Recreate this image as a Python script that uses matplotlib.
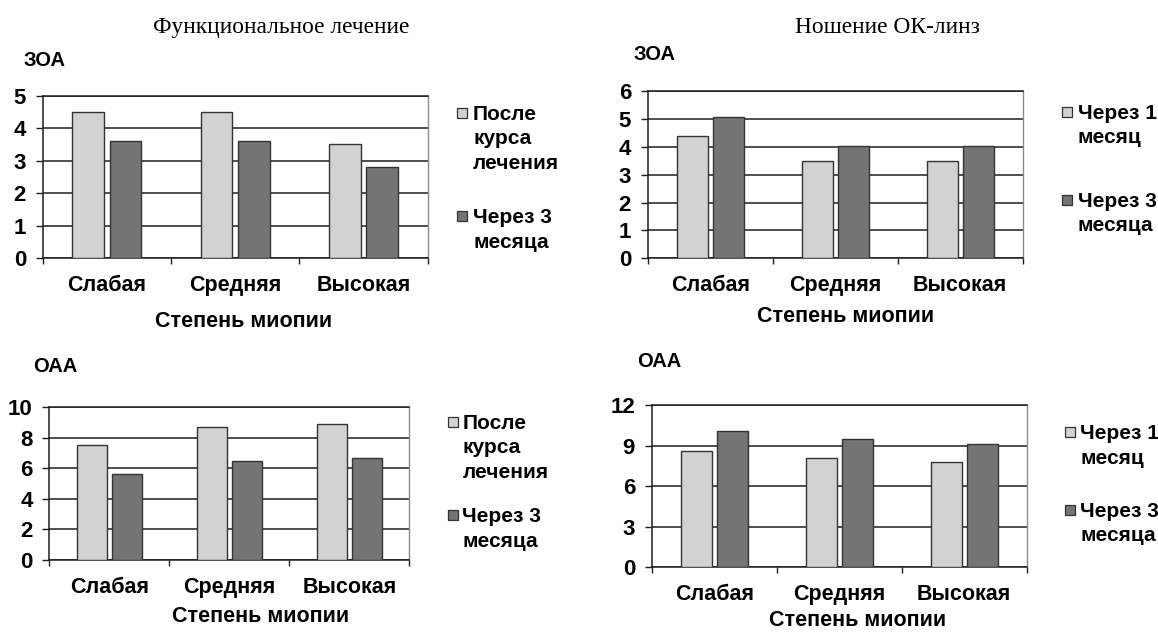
import matplotlib
matplotlib.use('Agg')
import matplotlib.pyplot as plt
from matplotlib.patches import Rectangle
import numpy as np

W, H = 1158, 633
plt.rcParams['font.family'] = ['Liberation Sans', 'DejaVu Sans']

# ---------------- data ----------------
categories = ['Слабая', 'Средняя', 'Высокая']
xlabel_text = 'Степень миопии'
left_heading = 'Функциональное лечение'
right_heading = 'Ношение ОК-линз'

zoa_func_after = [4.5, 4.5, 3.5]
zoa_func_3m = [3.6, 3.6, 2.8]
oaa_func_after = [7.5, 8.7, 8.9]
oaa_func_3m = [5.6, 6.5, 6.7]

zoa_ok_1m = [4.4, 3.5, 3.5]
zoa_ok_3m = [5.05, 4.03, 4.03]
oaa_ok_1m = [8.6, 8.1, 7.8]
oaa_ok_3m = [10.1, 9.5, 9.1]

func_labels = ['После\nкурса\nлечения', 'Через 3\nмесяца']
ok_labels = ['Через 1\nмесяц', 'Через 3\nмесяца']

yticks_zoa_func = [0, 1, 2, 3, 4, 5]
yticks_oaa_func = [0, 2, 4, 6, 8, 10]
yticks_zoa_ok = [0, 1, 2, 3, 4, 5, 6]
yticks_oaa_ok = [0, 3, 6, 9, 12]

# ---------------- style ----------------
LIGHT = '#d2d2d2'
DARK = '#747474'
EDGE = '#333333'
GRID = '#1e1e1e'
TICK_FS = 16
CAT_FS = 15.5
LEG_FS = 15
XLAB_FS = 15.5
TTL_FS = 14.5

fig = plt.figure(figsize=(W / 100, H / 100), dpi=100)


def fx(x):
    return x / W


def fy(y):
    return 1 - y / H


def panel(ax_px, s1, s2, yticks, title, title_px, labels, sq_x, txt_x, leg_y, xlab_c):
    x0, y0, x1, y1 = ax_px
    ax = fig.add_axes([fx(x0), fy(y1), (x1 - x0) / W, (y1 - y0) / H])
    x = np.arange(len(categories))
    ax.bar(x - 0.145, s1, width=0.247, color=LIGHT, edgecolor=EDGE, lw=1.0, zorder=3)
    ax.bar(x + 0.145, s2, width=0.247, color=DARK, edgecolor=EDGE, lw=1.0, zorder=3)
    ax.set_xlim(-0.5, len(categories) - 0.5)
    ax.set_ylim(yticks[0], yticks[-1])
    ax.set_yticks(yticks)
    ax.set_yticklabels([str(t) for t in yticks], fontsize=TICK_FS, fontweight='bold')
    ax.yaxis.grid(True, color=GRID, lw=1.1, zorder=0)
    ax.set_axisbelow(True)
    ax.set_xticks(np.arange(len(categories) + 1) - 0.5)
    ax.set_xticklabels([])
    ax.set_xticks(x, minor=True)
    ax.set_xticklabels(categories, minor=True, fontsize=CAT_FS, fontweight='bold')
    ax.tick_params(axis='x', which='minor', length=0, pad=12)
    ax.tick_params(axis='x', which='major', length=4.5, width=1.0, color=GRID, direction='out')
    ax.tick_params(axis='y', length=5.0, width=1.0, color=GRID, direction='out', pad=7)
    for sp in ['left', 'bottom', 'top']:
        ax.spines[sp].set_color(GRID)
        ax.spines[sp].set_linewidth(1.1)
    ax.spines['right'].set_color('#8a8a8a')
    ax.spines['right'].set_linewidth(1.0)
    ax.set_xlabel(xlabel_text, fontsize=XLAB_FS, fontweight='bold')
    ax.xaxis.label.set_va('center')
    ax.xaxis.set_label_coords((xlab_c[0] - x0) / (x1 - x0), -(xlab_c[1] - y1) / (y1 - y0))
    fig.text(fx(title_px[0]), fy(title_px[1]), title, ha='left', va='center',
             fontsize=TTL_FS, fontweight='bold')
    for lab, col, cy in zip(labels, [LIGHT, DARK], leg_y):
        fig.patches.append(Rectangle((fx(sq_x), fy(cy + 5)), 10 / W, 10 / H,
                                     transform=fig.transFigure, facecolor=col,
                                     edgecolor=EDGE, lw=0.9))
        fig.text(fx(txt_x), fy(cy - 7.7), lab, ha='left', va='top',
                 fontsize=LEG_FS, fontweight='bold', linespacing=1.36)
    return ax


panel((42.7, 95.7, 427.7, 258.3), zoa_func_after, zoa_func_3m, yticks_zoa_func, 'ЗОА',
      (24, 61), func_labels, 457, 473, (112.7, 216), (244, 321.7))
panel((647.7, 91, 1022.7, 258.3), zoa_ok_1m, zoa_ok_3m, yticks_zoa_ok, 'ЗОА',
      (634, 55), ok_labels, 1062, 1077.5, (111.7, 199.5), (846, 316))
panel((49.3, 407.3, 409.3, 560), oaa_func_after, oaa_func_3m, yticks_oaa_func, 'ОАА',
      (33, 366.7), func_labels, 448, 462.5, (421.7, 515), (261, 616.7))
panel((651.7, 405, 1026.7, 567.3), oaa_ok_1m, oaa_ok_3m, yticks_oaa_ok, 'ОАА',
      (637, 361.7), ok_labels, 1065, 1080.5, (432, 509.5), (857.5, 620.5))

fig.text(fx(153.3), fy(33.3), left_heading, ha='left', va='baseline',
         fontsize=16.8, family='Liberation Serif')
fig.text(fx(795), fy(33.3), right_heading, ha='left', va='baseline',
         fontsize=16.8, family='Liberation Serif')

fig.savefig('out.png', dpi=100)
